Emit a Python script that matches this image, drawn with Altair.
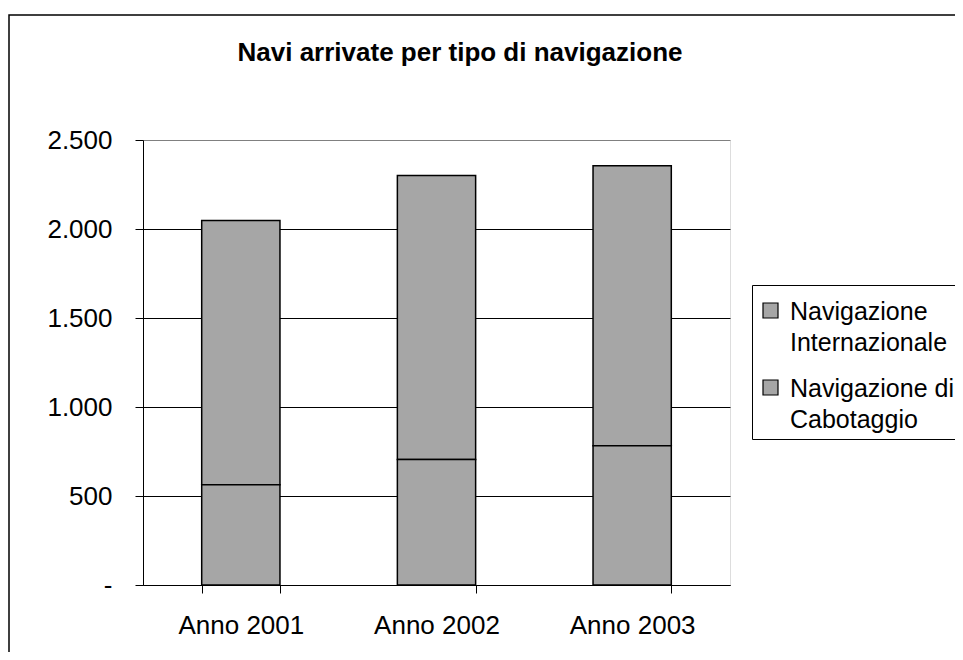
import altair as alt
import pandas as pd

# ---- data ----
years = ["Anno 2001", "Anno 2002", "Anno 2003"]
internazionale = [1485, 1595, 1574]
cabotaggio = [563, 705, 782]
series = ["Navigazione Internazionale", "Navigazione di Cabotaggio"]
legend_lines = [["Navigazione", "Internazionale"], ["Navigazione di", "Cabotaggio"]]
y_ticks = [0, 500, 1000, 1500, 2000, 2500]
title_text = "Navi arrivate per tipo di navigazione"

rows = []
for i, yr in enumerate(years):
    rows.append({"anno": yr, "serie": series[0], "valore": internazionale[i], "ordine": 1})
    rows.append({"anno": yr, "serie": series[1], "valore": cabotaggio[i], "ordine": 0})
df = pd.DataFrame(rows)

FONT = "Liberation Sans"
W, H = 587, 445
GRAY = "#A6A6A6"

label_expr = " : ".join(
    [f"datum.label == '{s}' ? {l!r}" for s, l in zip(series, legend_lines)] + ["datum.label"]
)

# square symbol raised so it sits beside the first label line
SQUARE_UP = "M-1,-2.2H1V-0.2H-1Z"

bars = alt.Chart(df).mark_bar(stroke="black", strokeWidth=1.5).encode(
    x=alt.X(
        "anno:N", sort=years, title=None,
        scale=alt.Scale(paddingInner=0.6, paddingOuter=0.3),
        axis=alt.Axis(labelAngle=0, tickBand="extent", tickSize=8, tickColor="black",
                      domainColor="black", labelFontSize=26, labelPadding=19,
                      labelColor="black", labelFont=FONT, grid=False),
    ),
    y=alt.Y(
        "valore:Q", stack="zero", title=None,
        scale=alt.Scale(domain=[0, 2500], nice=False),
        axis=alt.Axis(values=y_ticks,
                      labelExpr="datum.value == 0 ? '-' : replace(format(datum.value, ','), ',', '.')",
                      tickSize=8, tickColor="black", domainColor="black",
                      labelFontSize=26, labelPadding=23, labelColor="black", labelFont=FONT,
                      grid=True,
                      gridColor={"condition": {"test": "datum.value >= 2500", "value": "#808080"},
                                 "value": "black"},
                      gridWidth=1),
    ),
    color=alt.Color(
        "serie:N", sort=series,
        scale=alt.Scale(domain=series, range=[GRAY, GRAY]),
        legend=alt.Legend(title=" ", titleFontSize=1, titlePadding=15,
                          orient="none", legendX=609, legendY=145,
                          symbolType=SQUARE_UP, symbolSize=225, symbolStrokeColor="black",
                          symbolStrokeWidth=1.2, labelFontSize=25, labelFont=FONT,
                          labelColor="black", labelLimit=400, labelOffset=7,
                          labelExpr=label_expr, strokeColor="black", padding=6,
                          fillColor="white", rowPadding=20, labelBaseline="alphabetic"),
    ),
    order=alt.Order("ordine:Q"),
)

one = pd.DataFrame({"t": [title_text]})

title = alt.Chart(one).mark_text(font=FONT, fontSize=26, fontWeight="bold",
                                 align="center", baseline="alphabetic", color="black").encode(
    x=alt.value(317), y=alt.value(-79), text="t:N"
)

frame = alt.Chart(one).mark_rect(fillOpacity=0, stroke="black", strokeWidth=1.5).encode(
    x=alt.value(-134), x2=alt.value(W + 400), y=alt.value(-125), y2=alt.value(H + 300)
)

chart = alt.layer(frame, bars, title).properties(
    width=W, height=H,
    autosize=alt.AutoSizeParams(type="none"),
    padding={"left": 135, "top": 132, "right": 225, "bottom": 67},
).configure_view(stroke="#808080", strokeWidth=1).configure(
    style={"guide-label": {"lineHeight": 31}}
)

chart.save("out.html", embed_options={"renderer": "svg", "actions": False})
